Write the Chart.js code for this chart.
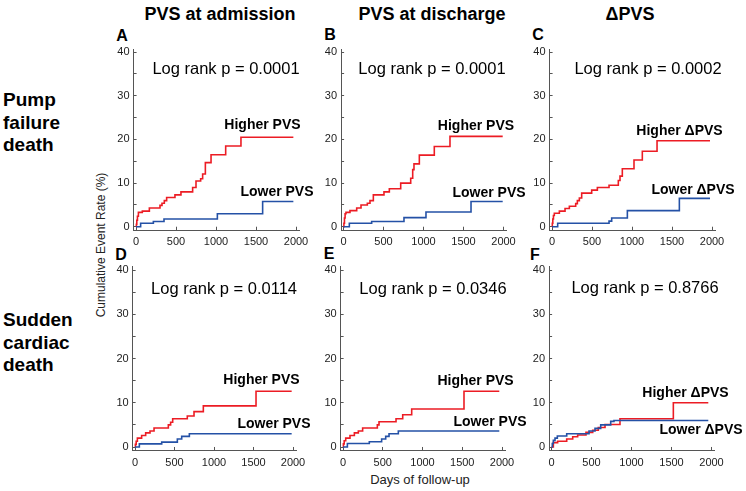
<!DOCTYPE html>
<html lang="en">
<head>
<meta charset="UTF-8">
<title>PVS - cumulative event rate</title>
<script src="https://cdn.jsdelivr.net/npm/chart.js"></script>
<style>
  body { margin: 0; background: #fff; font-family: "Liberation Sans", Arial, sans-serif; }
  #wrap { position: relative; width: 746px; height: 491px; overflow: hidden; background: #fff; }
  canvas { position: absolute; left: 0; top: 0; }
  .t { position: absolute; transform: translate(-50%, -50%); white-space: nowrap; color: #000; }
  .col { font-weight: bold; font-size: 18px; }
  .let { font-weight: bold; font-size: 16px; }
  .row { position: absolute; left: 3px; font-weight: bold; font-size: 19px; line-height: 22.5px; color: #000; }
  .ytitle { font-size: 12px; color: #222; transform: translate(-50%, -50%) rotate(-90deg); }
  .xtitle { font-size: 13px; color: #222; }
</style>
</head>
<body>
<div id="wrap">
  <div class="t col" style="left:220px; top:14px">PVS at admission</div>
  <div class="t col" style="left:432px; top:14px">PVS at discharge</div>
  <div class="t col" style="left:630px; top:14px">ΔPVS</div>

  <div class="t let" style="left:122px; top:36px">A</div>
  <div class="t let" style="left:330px; top:35px">B</div>
  <div class="t let" style="left:538px; top:35px">C</div>
  <div class="t let" style="left:121px; top:255px">D</div>
  <div class="t let" style="left:329px; top:254px">E</div>
  <div class="t let" style="left:535px; top:255px">F</div>

  <div class="row" style="top:89px">Pump<br>failure<br>death</div>
  <div class="row" style="top:309px">Sudden<br>cardiac<br>death</div>

  <div class="t ytitle" style="left:101px; top:245px">Cumulative Event Rate (%)</div>
  <div class="t xtitle" style="left:420px; top:479px">Days of follow-up</div>
</div>
<script>
// axis ticks
const xTicks = [0, 500, 1000, 1500, 2000];
const yTicks = [0, 5, 10, 15, 20, 25, 30, 35, 40];

// log rank p values, panels A-F
const logRankP = ['0.0001', '0.0001', '0.0002', '0.0114', '0.0346', '0.8766'];

// [day, cumulative event rate %]
// A: pump failure death, PVS at admission
const pumpAdmHigher = [[0,0],[5,0.6],[10,1.5],[18,2.4],[30,3.3],[79,3.6],[167,4.3],[300,4.9],[325,5.4],[354,6.0],[383,6.7],[487,7.3],[562,8.0],[708,9.0],[750,10.5],[808,11.0],[833,12.1],[867,14.7],[938,16.5],[1121,18.5],[1312,20.5],[1967,20.5]];
const pumpAdmLower  = [[0,0],[58,0.8],[217,1.2],[350,1.8],[1017,3.0],[1583,5.8],[1967,5.8]];
// B: pump failure death, PVS at discharge
const pumpDisHigher = [[0,0],[5,0.8],[12,2.0],[20,3.0],[31,3.3],[81,3.7],[165,4.3],[219,5.0],[298,5.4],[331,6.0],[373,7.3],[506,8.0],[573,8.7],[715,10.0],[840,11.1],[865,13.1],[881,14.4],[948,16.4],[1135,18.4],[1331,20.7],[1990,20.7]];
const pumpDisLower  = [[0,0],[73,0.8],[352,1.2],[756,2.1],[1031,3.4],[1594,5.8],[1990,5.8]];
// C: pump failure death, delta PVS
const pumpDeltaHigher = [[0,0],[4,0.8],[10,1.8],[18,2.6],[29,3.1],[92,3.6],[163,4.2],[217,4.7],[296,5.3],[317,6.0],[342,6.6],[371,7.7],[496,8.4],[567,9.0],[713,9.5],[829,10.6],[850,11.6],[879,13.3],[1025,15.3],[1129,17.3],[1313,19.7],[1975,19.7]];
const pumpDeltaLower  = [[0,0],[71,0.8],[713,1.3],[746,2.0],[942,3.7],[1592,6.5],[1975,6.5]];
// D: sudden cardiac death, PVS at admission
const scdAdmHigher = [[0,0],[5,0.6],[15,1.3],[30,2.0],[84,2.6],[135,3.2],[190,3.6],[241,4.3],[422,5.0],[451,5.6],[477,6.4],[662,7.0],[747,8.0],[865,9.3],[1532,12.6],[1983,12.6]];
const scdAdmLower  = [[0,0],[55,0.7],[338,1.1],[536,1.8],[591,2.4],[688,3.0],[1983,3.0]];
// E: sudden cardiac death, PVS at discharge
const scdDisHigher = [[0,0],[5,0.7],[15,1.4],[34,2.0],[88,2.6],[143,3.2],[193,3.6],[247,4.3],[432,5.0],[453,5.7],[667,6.4],[751,7.3],[864,8.6],[1522,12.6],[1966,12.6]];
const scdDisLower  = [[0,0],[55,0.8],[331,1.2],[486,1.8],[537,2.4],[579,3.0],[696,3.6],[1966,3.6]];
// F: sudden cardiac death, delta PVS
const scdDeltaHigher = [[0,0],[23,1.0],[77,1.3],[190,1.8],[265,2.3],[327,2.7],[431,3.3],[515,3.8],[585,4.4],[669,5.1],[856,6.4],[1523,10.0],[1960,10.0]];
const scdDeltaLower  = [[0,0],[10,0.8],[23,1.5],[44,2.0],[73,2.5],[190,3.0],[469,3.6],[544,4.2],[615,5.0],[740,5.8],[781,6.0],[1960,6.0]];

const RED = '#ec1c24';
const BLUE = '#2451a6';
const AXIS = '#555';
const X_MIN = -30, X_MAX = 2040, Y_MIN = -0.9, Y_MAX = 40.7;
const W = 746, H = 491;

// panel placement: pixel of day 0 / rate 0 and pixels per unit; label anchors in data units
const panels = [
  { hi: pumpAdmHigher, lo: pumpAdmLower, hiName: 'Higher PVS', loName: 'Lower PVS', x0: 136, xs: 0.08, y0: 226.8, ys: 4.368, pAt: [1125, 36.1], hiAt: [1581, 23.2], loAt: [1762, 7.9] },
  { hi: pumpDisHigher, lo: pumpDisLower, hiName: 'Higher PVS', loName: 'Lower PVS', x0: 343.5, xs: 0.08, y0: 226.8, ys: 4.368, pAt: [1106, 36.1], hiAt: [1656, 23.1], loAt: [1819, 7.6] },
  { hi: pumpDeltaHigher, lo: pumpDeltaLower, hiName: 'Higher ΔPVS', loName: 'Lower ΔPVS', x0: 552, xs: 0.08, y0: 226.8, ys: 4.368, pAt: [1200, 36.1], hiAt: [1594, 22.0], loAt: [1763, 8.4] },
  { hi: scdAdmHigher, lo: scdAdmLower, hiName: 'Higher PVS', loName: 'Lower PVS', x0: 135, xs: 0.079, y0: 447, ys: 4.425, pAt: [1127, 35.7], hiAt: [1601, 15.0], loAt: [1759, 5.2] },
  { hi: scdDisHigher, lo: scdDisLower, hiName: 'Higher PVS', loName: 'Lower PVS', x0: 343, xs: 0.0795, y0: 447, ys: 4.425, pAt: [1132, 35.7], hiAt: [1667, 14.8], loAt: [1849, 5.7] },
  { hi: scdDeltaHigher, lo: scdDeltaLower, hiName: 'Higher ΔPVS', loName: 'Lower ΔPVS', x0: 551.5, xs: 0.08, y0: 447, ys: 4.425, pAt: [1169, 35.9], hiAt: [1675, 12.1], loAt: [1869, 3.8] }
];

// draws the log rank text and the group names at data positions
const kmText = {
  id: 'kmText',
  afterDatasetsDraw(chart, args, opts) {
    const { ctx, scales: { x, y } } = chart;
    ctx.save();
    ctx.textAlign = 'center';
    ctx.textBaseline = 'middle';
    ctx.fillStyle = '#000';
    opts.items.forEach(it => {
      ctx.font = it.font;
      ctx.fillText(it.text, x.getPixelForValue(it.at[0]), y.getPixelForValue(it.at[1]));
    });
    ctx.restore();
  }
};

const wrap = document.getElementById('wrap');

panels.forEach((pn, i) => {
  const cv = document.createElement('canvas');
  cv.width = W; cv.height = H;
  wrap.appendChild(cv);

  const left = pn.x0 + X_MIN * pn.xs, right = pn.x0 + X_MAX * pn.xs;
  const top = pn.y0 - Y_MAX * pn.ys, bottom = pn.y0 - Y_MIN * pn.ys;

  const tickFont = { family: '"Liberation Sans", Arial, sans-serif', size: 11 };
  new Chart(cv, {
    type: 'line',
    data: {
      datasets: [
        { data: pn.lo.map(d => ({ x: d[0], y: d[1] })), borderColor: BLUE, borderWidth: 1.6, stepped: true, pointRadius: 0, fill: false },
        { data: pn.hi.map(d => ({ x: d[0], y: d[1] })), borderColor: RED, borderWidth: 1.6, stepped: true, pointRadius: 0, fill: false }
      ]
    },
    options: {
      responsive: false,
      animation: false,
      events: [],
      layout: { padding: { left: left - 30, right: W - right, top: top, bottom: H - bottom - 20 } },
      plugins: {
        legend: { display: false },
        tooltip: { enabled: false },
        kmText: {
          items: [
            { text: 'Log rank p = ' + logRankP[i], at: pn.pAt, font: '16.5px "Liberation Sans", Arial, sans-serif' },
            { text: pn.hiName, at: pn.hiAt, font: 'bold 14px "Liberation Sans", Arial, sans-serif' },
            { text: pn.loName, at: pn.loAt, font: 'bold 14px "Liberation Sans", Arial, sans-serif' }
          ]
        }
      },
      scales: {
        x: {
          type: 'linear', min: X_MIN, max: X_MAX,
          afterBuildTicks: s => { s.ticks = xTicks.map(v => ({ value: v })); },
          afterFit: s => { s.height = 20; },
          border: { color: AXIS, width: 1 },
          grid: { drawOnChartArea: false, drawTicks: true, tickLength: -4, color: AXIS },
          ticks: { autoSkip: false, maxRotation: 0, padding: 9, color: '#222', font: tickFont,
                   callback: v => String(v) }
        },
        y: {
          type: 'linear', min: Y_MIN, max: Y_MAX,
          afterBuildTicks: s => { s.ticks = yTicks.map(v => ({ value: v })); },
          afterFit: s => { s.width = 30; },
          border: { color: AXIS, width: 1 },
          grid: { drawOnChartArea: false, drawTicks: true, tickLength: -3, color: AXIS },
          ticks: { autoSkip: false, padding: 7, color: '#222', font: tickFont,
                   callback: v => (v % 10 === 0 ? String(v) : '') }
        }
      }
    },
    plugins: [kmText]
  });
});
</script>
</body>
</html>
